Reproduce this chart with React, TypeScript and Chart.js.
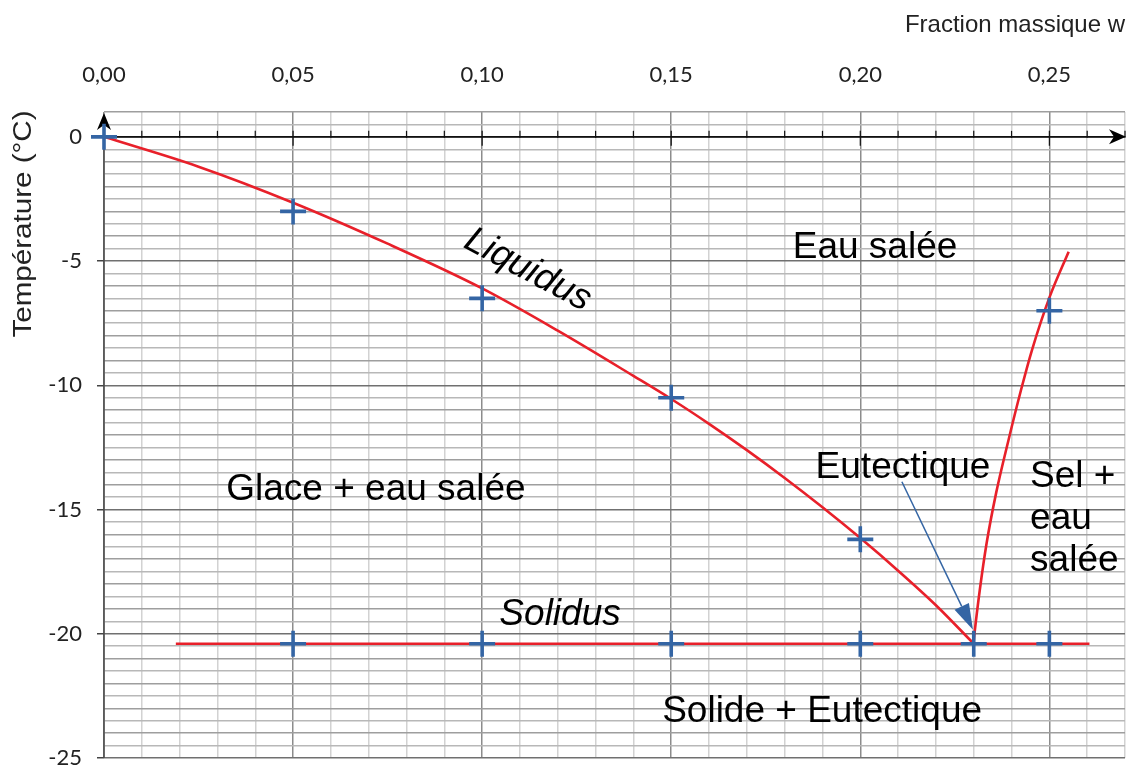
import { useEffect, useRef } from "react";
import { Chart, registerables } from "chart.js";

Chart.register(...registerables);

// ---- data ----
const liquidusW = [0, 0.025, 0.05, 0.075, 0.1, 0.12, 0.14, 0.15, 0.16, 0.17, 0.18, 0.19, 0.2, 0.21, 0.22, 0.23];
const liquidusT = [0, -1.2, -2.65, -4.3, -6.1, -7.8, -9.62, -10.55, -11.55, -12.61, -13.73, -14.91, -16.15, -17.46, -18.85, -20.4];

const saltW = [0.2299, 0.2302, 0.2316, 0.2334, 0.2359, 0.2392, 0.2425, 0.2454, 0.2501, 0.2551];
const saltT = [-20.41, -19.98, -18.24, -16.36, -14.35, -12.2, -10.19, -8.58, -6.43, -4.62];

const solidusW = [0.019, 0.2606];
const solidusT = [-20.4, -20.4];

const measuredW = [0, 0.05, 0.1, 0.15, 0.2, 0.23, 0.25, 0.05, 0.1, 0.15, 0.2, 0.25];
const measuredT = [0, -3.0, -6.5, -10.5, -16.2, -20.4, -7.0, -20.4, -20.4, -20.4, -20.4, -20.4];

const xTickValues = [0, 0.01, 0.02, 0.03, 0.04, 0.05, 0.06, 0.07, 0.08, 0.09, 0.1, 0.11, 0.12, 0.13, 0.14, 0.15, 0.16, 0.17, 0.18, 0.19, 0.2, 0.21, 0.22, 0.23, 0.24, 0.25, 0.26, 0.27];
const yMin = -25;
const yMax = 1;
const yStep = 0.5;

const xTitle = "Fraction massique w";
const yTitle = "Température (°C)";

const regionLabels = [
  { text: "Eau salée", w: 0.2039, t: -4.87, align: "center", italic: false, rot: 0 },
  { text: "Liquidus", w: 0.1121, t: -5.36, align: "center", italic: true, rot: 28 },
  { text: "Glace + eau salée", w: 0.0719, t: -14.61, align: "center", italic: false, rot: 0 },
  { text: "Eutectique", w: 0.2113, t: -13.73, align: "center", italic: false, rot: 0 },
  { text: "Sel +", w: 0.2449, t: -14.09, align: "left", italic: false, rot: 0 },
  { text: "eau", w: 0.2449, t: -15.78, align: "left", italic: false, rot: 0 },
  { text: "salée", w: 0.2449, t: -17.47, align: "left", italic: false, rot: 0 },
  { text: "Solidus", w: 0.1206, t: -19.64, align: "center", italic: true, rot: 0 },
  { text: "Solide + Eutectique", w: 0.1899, t: -23.55, align: "center", italic: false, rot: 0 },
];

const eutecticArrowFrom = [0.211, -13.88];
const eutecticArrowTo = [0.2298, -19.84];

const RED = "#e8202a";
const BLUE = "#3465a4";
const TICK_FONT = "Lato";

function isMult(v: number, step: number) {
  const r = v / step;
  return Math.abs(r - Math.round(r)) < 1e-6;
}

const overlay = {
  id: "overlay",
  beforeDatasetsDraw(chart: any) {
    const { ctx, scales, chartArea } = chart;
    const x = scales.x;
    const y = scales.y;
    const x0 = x.getPixelForValue(0);
    const y0 = y.getPixelForValue(0);
    ctx.save();
    // vertical axis
    ctx.strokeStyle = "#4a4a4a";
    ctx.lineWidth = 1.5;
    ctx.beginPath();
    ctx.moveTo(x0, chartArea.bottom);
    ctx.lineTo(x0, chartArea.top + 6);
    ctx.stroke();
    // horizontal axis (T = 0)
    ctx.strokeStyle = "#111";
    ctx.lineWidth = 1.6;
    ctx.beginPath();
    ctx.moveTo(x0, y0);
    ctx.lineTo(chartArea.right - 6, y0);
    ctx.stroke();
    // ticks on horizontal axis
    ctx.lineWidth = 1.2;
    for (const v of xTickValues) {
      if (v === 0) continue;
      const px = x.getPixelForValue(v);
      const major = isMult(v, 0.05);
      ctx.beginPath();
      ctx.moveTo(px, y0 - 6);
      ctx.lineTo(px, y0 + (major ? 9 : 1));
      ctx.stroke();
    }
    // arrow heads
    ctx.fillStyle = "#000";
    const xr = chartArea.right + 1;
    ctx.beginPath();
    ctx.moveTo(xr, y0);
    ctx.lineTo(xr - 17, y0 - 7.5);
    ctx.lineTo(xr - 12, y0);
    ctx.lineTo(xr - 17, y0 + 7.5);
    ctx.closePath();
    ctx.fill();
    const yt = chartArea.top + 1;
    ctx.beginPath();
    ctx.moveTo(x0, yt);
    ctx.lineTo(x0 - 7, yt + 17);
    ctx.lineTo(x0, yt + 12);
    ctx.lineTo(x0 + 7, yt + 17);
    ctx.closePath();
    ctx.fill();
    ctx.restore();
  },
  afterDatasetsDraw(chart: any) {
    const { ctx, scales } = chart;
    const x = scales.x;
    const y = scales.y;
    ctx.save();
    // region labels
    ctx.fillStyle = "#000";
    ctx.textBaseline = "alphabetic";
    for (const l of regionLabels) {
      ctx.save();
      ctx.font = `${l.italic ? "italic " : ""}37px "Liberation Sans", Arial, sans-serif`;
      ctx.textAlign = l.align as CanvasTextAlign;
      const px = x.getPixelForValue(l.w);
      const py = y.getPixelForValue(l.t);
      ctx.translate(px, py);
      if (l.rot) {
        ctx.rotate((l.rot * Math.PI) / 180);
        ctx.textBaseline = "middle";
      }
      ctx.fillText(l.text, 0, 0);
      ctx.restore();
    }
    // eutectic arrow
    const ax = x.getPixelForValue(eutecticArrowFrom[0]);
    const ay = y.getPixelForValue(eutecticArrowFrom[1]);
    const bx = x.getPixelForValue(eutecticArrowTo[0]);
    const by = y.getPixelForValue(eutecticArrowTo[1]);
    const dx = bx - ax;
    const dy = by - ay;
    const len = Math.hypot(dx, dy);
    const ux = dx / len;
    const uy = dy / len;
    const headL = 26;
    const headW = 8;
    ctx.strokeStyle = BLUE;
    ctx.fillStyle = BLUE;
    ctx.lineWidth = 1.5;
    ctx.beginPath();
    ctx.moveTo(ax, ay);
    ctx.lineTo(bx - ux * headL, by - uy * headL);
    ctx.stroke();
    ctx.beginPath();
    ctx.moveTo(bx, by);
    ctx.lineTo(bx - ux * headL - uy * headW, by - uy * headL + ux * headW);
    ctx.lineTo(bx - ux * headL + uy * headW, by - uy * headL - ux * headW);
    ctx.closePath();
    ctx.fill();
    // axis titles
    ctx.fillStyle = "#222";
    ctx.font = `24px "Liberation Sans", Arial, sans-serif`;
    ctx.textAlign = "right";
    ctx.textBaseline = "alphabetic";
    ctx.fillText(xTitle, 1125, 32);
    ctx.save();
    ctx.translate(31, 224);
    ctx.rotate(-Math.PI / 2);
    ctx.font = `25px "Liberation Sans", Arial, sans-serif`;
    const w = ctx.measureText(yTitle).width;
    ctx.scale(227 / w, 1);
    ctx.textAlign = "center";
    ctx.fillText(yTitle, 0, 0);
    ctx.restore();
    ctx.restore();
  },
};

export default function App() {
  const ref = useRef<HTMLCanvasElement | null>(null);
  useEffect(() => {
    if (!ref.current) return;
    const pts = (ws: number[], ts: number[]) => ws.map((w, i) => ({ x: w, y: ts[i] }));
    const chart = new Chart(ref.current, {
      type: "line",
      data: {
        datasets: [
          {
            label: "Mesures",
            data: pts(measuredW, measuredT),
            showLine: false,
            pointStyle: "cross",
            pointRadius: 13,
            pointBorderWidth: 3.6,
            pointBorderColor: BLUE,
            pointBackgroundColor: BLUE,
            clip: false,
            order: 0,
          },
          {
            label: "Liquidus",
            data: pts(liquidusW, liquidusT),
            borderColor: RED,
            borderWidth: 2.6,
            pointRadius: 0,
            cubicInterpolationMode: "monotone",
            fill: false,
            clip: false,
            order: 1,
          },
          {
            label: "Sel",
            data: pts(saltW, saltT),
            borderColor: RED,
            borderWidth: 2.6,
            pointRadius: 0,
            cubicInterpolationMode: "monotone",
            fill: false,
            clip: false,
            order: 1,
          },
          {
            label: "Solidus",
            data: pts(solidusW, solidusT),
            borderColor: RED,
            borderWidth: 2.6,
            pointRadius: 0,
            fill: false,
            clip: false,
            order: 1,
          },
        ],
      },
      options: {
        animation: false,
        responsive: false,
        maintainAspectRatio: false,
        layout: { autoPadding: false, padding: { left: 0, right: 6, top: 0, bottom: 9 } },
        plugins: { legend: { display: false }, tooltip: { enabled: false }, title: { display: false } },
        scales: {
          x: {
            type: "linear",
            position: "top",
            min: 0,
            max: 0.27,
            afterFit: (s: any) => {
              s.height = 112;
              s.paddingLeft = 0;
              s.paddingRight = 0;
              s.paddingTop = 0;
              s.paddingBottom = 0;
            },
            afterBuildTicks: (s: any) => {
              s.ticks = xTickValues.map((v) => ({ value: v }));
            },
            border: { display: false },
            grid: {
              drawTicks: false,
              color: (c: any) => (c.tick && isMult(c.tick.value, 0.05) ? "#8c8c8c" : "#d2d2d2"),
              lineWidth: 1.5,
            },
            ticks: {
              autoSkip: false,
              maxRotation: 0,
              padding: 24,
              color: "#222",
              font: { family: TICK_FONT, size: 22 },
              callback: (v: any) => (isMult(Number(v), 0.05) ? Number(v).toFixed(2).replace(".", ",") : ""),
            },
          },
          y: {
            type: "linear",
            min: yMin,
            max: yMax,
            afterFit: (s: any) => {
              s.width = 104;
              s.paddingLeft = 0;
              s.paddingRight = 0;
              s.paddingTop = 0;
              s.paddingBottom = 0;
            },
            afterBuildTicks: (s: any) => {
              const t: any[] = [];
              for (let v = yMin; v <= yMax + 1e-9; v += yStep) t.push({ value: Math.round(v * 10) / 10 });
              s.ticks = t;
            },
            border: { display: false },
            grid: {
              drawTicks: true,
              tickLength: 7,
              tickColor: (c: any) => (c.tick && isMult(c.tick.value, 5) ? "#444" : "rgba(0,0,0,0)"),
              color: (c: any) => {
                const v = c.tick ? c.tick.value : 0;
                if (isMult(v, 5)) return "#707070";
                if (isMult(v, 1)) return "#9e9e9e";
                return "#b8b8b8";
              },
              lineWidth: 1.5,
            },
            ticks: {
              autoSkip: false,
              padding: 15,
              color: "#222",
              font: { family: TICK_FONT, size: 22 },
              callback: (v: any) => (isMult(Number(v), 5) ? String(Number(v)) : ""),
            },
          },
        },
      },
      plugins: [overlay],
    } as any);
    return () => chart.destroy();
  }, []);
  return (
    <div style={{ position: "fixed", left: 0, top: 0, width: 1131, height: 767, background: "#fff" }}>
      <canvas ref={ref} width={1131} height={767} style={{ display: "block" }} />
    </div>
  );
}
